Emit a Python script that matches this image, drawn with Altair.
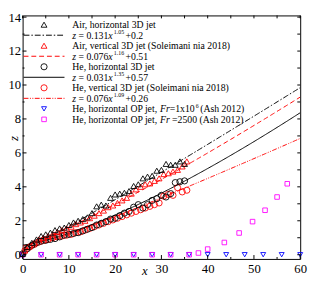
import altair as alt
import numpy as np
import pandas as pd

# ---------------- data ----------------
air_h_x = [0, 1, 2, 3, 4, 5, 6, 7, 8, 9, 10, 11, 12, 13, 14, 15, 16, 17, 18, 19, 20, 21, 22, 23,
           24, 25, 26, 27, 28, 29, 30, 31, 32, 33, 34, 35]
air_h_z = [0.05, 0.45, 0.7, 0.9, 1.1, 1.2, 1.3, 1.45, 1.55, 1.6, 1.75, 1.9, 2.0, 2.1, 2.2, 2.45,
           2.85, 2.95, 2.9, 3.35, 3.55, 3.6, 3.65, 3.75, 4.05, 4.15, 4.5, 4.6, 4.65, 4.95, 5.0,
           5.35, 5.3, 5.3, 5.5, 5.35]

air_v_x = [0.5, 1.5, 2.5, 3.5, 4.5, 5.5, 6.5, 7.5, 8.5, 9.5, 10.5, 11.5, 12.5, 13.5, 14.5, 15.5,
           16.5, 17.5, 18.5, 19.5, 20.5, 21.5, 22.5, 23.5, 24.5, 25.5, 26.5, 27.5, 28.5, 29.5,
           30.5, 31.5, 32.5, 33.5, 34.5, 35.5]
air_v_z = [0.25, 0.5, 0.7, 0.9, 1.0, 1.1, 1.2, 1.35, 1.45, 1.55, 1.65, 1.8, 1.9, 2.0, 2.15, 2.3,
           2.45, 2.6, 2.8, 2.9, 3.05, 3.2, 3.35, 3.6, 3.85, 4.0, 4.15, 4.2, 4.35, 4.5, 4.75, 4.8,
           4.9, 5.0, 5.2, 5.5]

he_h_x = [0, 1, 2, 3, 4, 5, 6, 7, 8, 9, 10, 11, 12, 13, 14, 15, 16, 17, 18, 19, 20, 21, 22, 23,
          24, 25, 26, 27, 28, 29, 30, 31, 32, 33, 34, 35]
he_h_z = [0.05, 0.35, 0.55, 0.7, 0.8, 0.85, 0.9, 0.95, 1.05, 1.15, 1.2, 1.25, 1.3, 1.4, 1.5, 1.6,
          1.75, 1.85, 1.95, 2.1, 2.15, 2.3, 2.45, 2.55, 2.8, 2.95, 2.75, 2.95, 3.2, 3.3, 3.5, 3.4,
          3.6, 4.25, 4.3, 4.35]

he_v_x = [0.5, 1.5, 2.5, 3.5, 4.5, 5.5, 6.5, 7.5, 8.5, 9.5, 10.5, 11.5, 12.5, 13.5, 14.5, 15.5,
          16.5, 17.5, 18.5, 19.5, 20.5, 21.5, 22.5, 23.5, 24.5, 25.5, 26.5, 27.5, 28.5, 29.5,
          30.5, 31.5, 32.5, 33.5, 34.5, 35.5]
he_v_z = [0.25, 0.45, 0.6, 0.75, 0.85, 0.9, 1.0, 1.05, 1.1, 1.15, 1.2, 1.3, 1.35, 1.45, 1.55, 1.65,
          1.75, 1.85, 1.95, 2.05, 2.15, 2.25, 2.35, 2.45, 2.55, 2.65, 2.75, 2.85, 2.95, 3.05, 3.45,
          3.55, 3.5, 3.95, 3.7, 3.8]

ash_fr1e6_x = [0, 4, 8, 12, 16, 20, 24, 28, 32, 36, 40, 44, 48, 52, 56, 60]
ash_fr1e6_z = [0, 0, 0, 0, 0, 0, 0, 0, 0, 0, 0, 0, 0, 0, 0, 0]

ash_fr2500_x = [0, 4, 8, 12, 16, 20, 24, 28, 32, 36, 38, 40, 43.6, 46.8, 49.7, 52.4, 55, 57.2]
ash_fr2500_z = [0, 0, 0, 0, 0, 0, 0, 0, 0, 0, 0.1, 0.33, 0.72, 1.28, 1.95, 2.62, 3.4, 4.18]

# fit coefficients z = a * x**b + c  (as given in the legend)
fit_a = [0.131, 0.076, 0.031, 0.076]
fit_b = [1.05, 1.16, 1.35, 1.09]
fit_c = [0.2, 0.51, 0.57, 0.26]

x_ticks_major = [0, 10, 20, 30, 40, 50, 60]
x_ticks_minor = [5, 15, 25, 35, 45, 55]
y_ticks_major = [0, 2, 4, 6, 8, 10, 12, 14]
y_ticks_minor = [1, 3, 5, 7, 9, 11, 13]

# ---------------- layout / style ----------------
W, H = 285, 250
FONT = "Liberation Serif"
RED, BLUE, MAG, BLK = "#ff0000", "#0000ff", "#ff00ff", "#000000"

xs = alt.Scale(domain=[0, 60], nice=False, zero=False)
ys = alt.Scale(domain=[-0.25, 14.1], nice=False, zero=False)
xaxis = alt.Axis(values=x_ticks_major, ticks=False, domain=False, grid=False, labelFont=FONT,
                 labelFontSize=13, labelColor=BLK, labelPadding=4, title="x",
                 titleFont=FONT, titleFontSize=13, titleFontStyle="italic", titleFontWeight="normal",
                 titleX=125, titleY=12, titleBaseline="middle", titleColor=BLK, labelFlush=False)
yaxis = alt.Axis(values=y_ticks_major, ticks=False, domain=False, grid=False, labelFont=FONT,
                 labelFontSize=13, labelColor=BLK, labelPadding=2, title="z",
                 titleFont=FONT, titleFontSize=13, titleFontStyle="italic", titleFontWeight="normal",
                 titleX=-9, titleY=126, titleAngle=270, titleBaseline="middle", titleColor=BLK,
                 labelFlush=False)

layers = []

def X(f="x"):
    return alt.X(f + ":Q", scale=xs, axis=xaxis)

def Y(f="z"):
    return alt.Y(f + ":Q", scale=ys, axis=yaxis)

# fit curves
xg = np.linspace(0, 60, 241)
fit_styles = [(BLK, [6, 2, 1.5, 2]), (RED, [5, 3]), (BLK, []), (RED, [5, 1.5, 1, 1.5, 1, 1.5])]
for a, b, c, (col, dash) in zip(fit_a, fit_b, fit_c, fit_styles):
    df = pd.DataFrame({"x": xg, "z": a * xg ** b + c})
    mk = dict(color=col, strokeWidth=1, clip=True)
    if dash:
        mk["strokeDash"] = dash
    layers.append(alt.Chart(df).mark_line(**mk).encode(x=X(), y=Y()))

# points
series = [
    (ash_fr1e6_x, ash_fr1e6_z, "triangle-down", BLUE, 26),
    (ash_fr2500_x, ash_fr2500_z, "square", MAG, 22),
    (he_v_x, he_v_z, "circle", RED, 40),
    (he_h_x, he_h_z, "circle", BLK, 40),
    (air_v_x, air_v_z, "triangle-up", RED, 36),
    (air_h_x, air_h_z, "triangle-up", BLK, 36),
]
for sx, sz, shp, col, size in series:
    df = pd.DataFrame({"x": sx, "z": sz})
    layers.append(alt.Chart(df).mark_point(shape=shp, color=col, size=size, filled=False,
                                           strokeWidth=0.9, opacity=1, clip=False)
                  .encode(x=X(), y=Y()))

# inward ticks
def rule_y(vals, x0, x1):
    return alt.Chart(pd.DataFrame({"z": vals})).mark_rule(color=BLK, strokeWidth=1).encode(
        y=Y(), x=alt.value(x0), x2=alt.value(x1))

def rule_x(vals, y0, y1):
    return alt.Chart(pd.DataFrame({"x": vals})).mark_rule(color=BLK, strokeWidth=1).encode(
        x=X(), y=alt.value(y0), y2=alt.value(y1))

layers += [
    rule_y(y_ticks_major, 0, 4), rule_y(y_ticks_minor, 0, 2),
    rule_y(y_ticks_major + y_ticks_minor, W - 3, W),
    rule_x(x_ticks_major, H, H - 4), rule_x(x_ticks_minor, H, H - 2),
    rule_x(x_ticks_major + x_ticks_minor, 0, 3),
]

# ---------------- legend (manual, with super-scripts) ----------------
TW = {" ": 250, "(": 333, ")": 333, "+": 564, ",": 250, ".": 250, "=": 564, "A": 722, "D": 722,
      "H": 722, "O": 722, "P": 556, "S": 556, "a": 444, "e": 444, "h": 500, "i": 278, "j": 278,
      "l": 278, "m": 778, "n": 500, "o": 500, "r": 333, "s": 389, "t": 278, "v": 500, "x": 500,
      "z": 444, "c": 444, "F": 556}
TWI = {"z": 389, "x": 444, "F": 611, "r": 389}

def tw(s, size, italic=False):
    tot = 0
    for ch in s:
        if ch.isdigit():
            tot += 500
        elif italic and ch in TWI:
            tot += TWI[ch]
        else:
            tot += TW.get(ch, 500)
    return tot / 1000 * size

FS, SS = 10, 6
leg_rows = [
    ("pt", "triangle-up", BLK, [("n", "Air, horizontal 3D jet")]),
    ("ln", [6, 2, 1.5, 2], BLK, [("i", "z"), ("n", " = 0.131"), ("i", "x"), ("s", "1.05"), ("n", "+0.2")]),
    ("pt", "triangle-up", RED, [("n", "Air, vertical 3D jet (Soleimani nia 2018)")]),
    ("ln", [5, 3], RED, [("i", "z"), ("n", " = 0.076"), ("i", "x"), ("s", "1.16"), ("n", "+0.51")]),
    ("pt", "circle", BLK, [("n", "He, horizontal 3D jet")]),
    ("ln", [], BLK, [("i", "z"), ("n", " = 0.031"), ("i", "x"), ("s", "1.35"), ("n", "+0.57")]),
    ("pt", "circle", RED, [("n", "He, vertical 3D jet (Soleimani nia 2018)")]),
    ("ln", [5, 1.5, 1, 1.5, 1, 1.5], RED, [("i", "z"), ("n", " = 0.076"), ("i", "x"), ("s", "1.09"), ("n", "+0.26")]),
    ("pt", "triangle-down", BLUE, [("n", "He, horizontal OP jet, "), ("i", "Fr"), ("n", "=1x10"), ("s", "6"), ("n", "(Ash 2012)")]),
    ("pt", "square", MAG, [("n", "He, horizontal OP jet, "), ("i", "Fr"), ("n", " =2500 (Ash 2012)")]),
]
one = pd.DataFrame({"k": [0]})
SYM_X, LN0, LN1, TX0 = 22, 1, 43, 51
for i, (kind, sty, col, pieces) in enumerate(leg_rows):
    ry = 9.5 + i * 10.8
    if kind == "pt":
        size = {"triangle-up": 36, "circle": 40, "triangle-down": 26, "square": 22}[sty]
        layers.append(alt.Chart(one).mark_point(shape=sty, color=col, size=size, filled=False,
                                                strokeWidth=0.9, opacity=1)
                      .encode(x=alt.value(SYM_X), y=alt.value(ry)))
    else:
        mk = dict(color=col, strokeWidth=1)
        if sty:
            mk["strokeDash"] = sty
        layers.append(alt.Chart(one).mark_rule(**mk).encode(
            x=alt.value(LN0), x2=alt.value(LN1), y=alt.value(ry)))
    cx = TX0
    for style, txt in pieces:
        if style == "s":
            cx += 1.2
            layers.append(alt.Chart(one).mark_text(text=txt, font=FONT, fontSize=SS, color=BLK,
                                                   align="left", baseline="middle")
                          .encode(x=alt.value(cx), y=alt.value(ry - 3.3)))
            cx += tw(txt, SS) + 1.5
        else:
            it = style == "i"
            lead = len(txt) - len(txt.lstrip(" "))
            core = txt.strip(" ")
            trail = len(txt) - len(txt.rstrip(" "))
            cx += tw(" " * lead, FS)
            layers.append(alt.Chart(one).mark_text(text=core, font=FONT, fontSize=FS, color=BLK,
                                                   align="left", baseline="middle",
                                                   fontStyle="italic" if it else "normal")
                          .encode(x=alt.value(cx), y=alt.value(ry + 0.5)))
            cx += tw(core, FS, it) + tw(" " * trail, FS)

chart = alt.layer(*layers).properties(
    width=W, height=H,
    autosize=alt.AutoSizeParams(type="none"),
    padding={"left": 15, "top": 4, "right": 8, "bottom": 19},
    background="white",
).configure_view(stroke=BLK, strokeWidth=1)

chart.save("out.html", embed_options={"renderer": "svg", "actions": False})
